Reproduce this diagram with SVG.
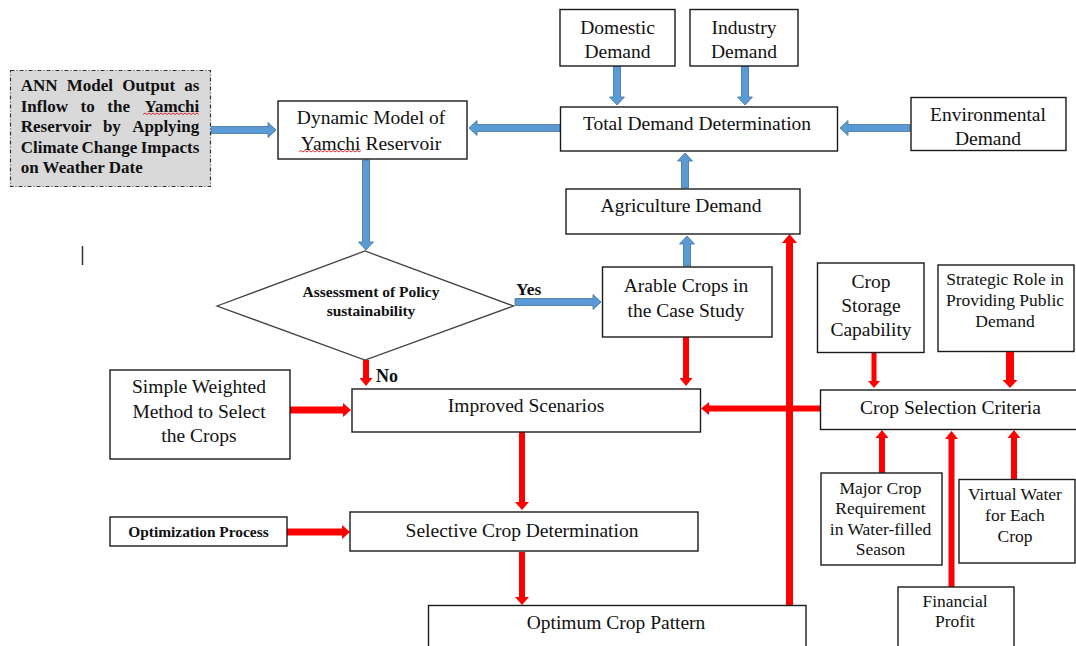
<svg xmlns="http://www.w3.org/2000/svg" width="1076" height="646" viewBox="0 0 1076 646">
<style>
.box{fill:#fff;stroke:#1a1a1a;stroke-width:1.4}
.t{font-family:"Liberation Serif","Times New Roman",serif;font-size:19.5px;fill:#111;text-anchor:middle}
.s{font-size:17.5px}
.b{font-weight:bold}
.blue{fill:#5b9bd5;stroke:#41719c;stroke-width:0.8}
.red{fill:#ff0000}
.wave{fill:none;stroke:#e03030;stroke-width:1}
</style>
<rect width="1076" height="646" fill="#fff"/>

<g id="connectors">
  <path class="blue" d="M211,126.5 L268,126.5 L268,122.5 L276,130 L268,137.5 L268,133.5 L211,133.5 Z"/>
  <path class="blue" d="M560,124.5 L477,124.5 L477,120.5 L469,128 L477,135.5 L477,131.5 L560,131.5 Z"/>
  <path class="blue" d="M613.5,66 L613.5,97 L609.5,97 L617,105 L624.5,97 L620.5,97 L620.5,66 Z"/>
  <path class="blue" d="M741.5,66 L741.5,97 L737.5,97 L745,105 L752.5,97 L748.5,97 L748.5,66 Z"/>
  <path class="blue" d="M910,124.5 L848,124.5 L848,120.5 L840,128 L848,135.5 L848,131.5 L910,131.5 Z"/>
  <path class="blue" d="M681.5,188 L681.5,161 L677.5,161 L685,153 L692.5,161 L688.5,161 L688.5,188 Z"/>
  <path class="blue" d="M683.5,266 L683.5,244 L679.5,244 L687,236 L694.5,244 L690.5,244 L690.5,266 Z"/>
  <path class="blue" d="M362.5,160 L362.5,242 L358.5,242 L366,250 L373.5,242 L369.5,242 L369.5,160 Z"/>
  <path class="blue" d="M515,298.5 L593,298.5 L593,294.5 L601,302 L593,309.5 L593,305.5 L515,305.5 Z"/>

  <path class="red" d="M363,360 L363,378 L359.5,378 L366,386 L372.5,378 L369,378 L369,360 Z"/>
  <path class="red" d="M683,337 L683,378 L679.5,378 L686,386 L692.5,378 L689,378 L689,337 Z"/>
  <path class="red" d="M290,406.5 L343,406.5 L343,403 L351,410 L343,417 L343,413.5 L290,413.5 Z"/>
  <path class="red" d="M820,405.5 L709,405.5 L709,402 L701,408.5 L709,415 L709,411.5 L820,411.5 Z"/>
  <path class="red" d="M519,432 L519,502 L515,502 L522,510 L529,502 L525,502 L525,432 Z"/>
  <path class="red" d="M287,528.5 L342,528.5 L342,525 L350,532 L342,539 L342,535.5 L287,535.5 Z"/>
  <path class="red" d="M519,552 L519,597 L515,597 L522,605 L529,597 L525,597 L525,552 Z"/>
  <path class="red" d="M786,605 L786,243 L782,243 L789.5,234 L797,243 L793,243 L793,605 Z"/>
  <path class="red" d="M871.5,353 L871.5,381 L868,381 L874,388 L880,381 L876.5,381 L876.5,353 Z"/>
  <path class="red" d="M1006,351 L1006,380 L1002.5,380 L1010,388 L1017.5,380 L1014,380 L1014,351 Z"/>
  <path class="red" d="M879,473 L879,438 L875.5,438 L882,430 L888.5,438 L885,438 L885,473 Z"/>
  <path class="red" d="M948.5,587 L948.5,439 L945,439 L951.5,431 L958,439 L954.5,439 L954.5,587 Z"/>
  <path class="red" d="M1011,479 L1011,438 L1007.5,438 L1014,430 L1020.5,438 L1017,438 L1017,479 Z"/>
  <text class="t b" x="516" y="295" style="text-anchor:start;font-size:17.5px">Yes</text>
  <text class="t b" x="376" y="382" style="text-anchor:start;font-size:18px">No</text>
</g>

<g id="ann">
  <rect x="10.5" y="70.5" width="200" height="116" fill="#d9d9d9" stroke="#333" stroke-width="1.2" stroke-dasharray="4,2,1,2"/>
  <g class="t b" style="font-size:17px;text-anchor:start">
    <text y="91"><tspan x="20.7">ANN</tspan><tspan x="66.7">Model</tspan><tspan x="122.2">Output</tspan><tspan x="199.3" text-anchor="end">as</tspan></text>
    <text y="111.5"><tspan x="20.7">Inflow</tspan><tspan x="80.5">to</tspan><tspan x="107.3">the</tspan><tspan x="199.3" text-anchor="end">Yamchi</tspan></text>
    <text y="132"><tspan x="20.7">Reservoir</tspan><tspan x="102.9">by</tspan><tspan x="199.3" text-anchor="end">Applying</tspan></text>
    <text y="152.5"><tspan x="20.7">Climate</tspan><tspan x="81.6">Change</tspan><tspan x="199.3" text-anchor="end">Impacts</tspan></text>
    <text x="20.7" y="173">on Weather Date</text>
  </g>
  <path class="wave" d="M143,114.5 l2,-1.5 l2,1.5 l2,-1.5 l2,1.5 l2,-1.5 l2,1.5 l2,-1.5 l2,1.5 l2,-1.5 l2,1.5 l2,-1.5 l2,1.5 l2,-1.5 l2,1.5 l2,-1.5 l2,1.5 l2,-1.5 l2,1.5 l2,-1.5 l2,1.5 l2,-1.5 l2,1.5 l2,-1.5 l2,1.5 l2,-1.5 l2,1.5 l2,-1.5 l2,1.5"/>
</g>

<g id="dynamic">
  <rect class="box" x="278" y="101" width="189" height="58"/>
  <text class="t" x="371" y="123.5">Dynamic Model of</text>
  <text class="t" x="371" y="149.5">Yamchi Reservoir</text>
  <path class="wave" d="M299,152 l2,-1.5 l2,1.5 l2,-1.5 l2,1.5 l2,-1.5 l2,1.5 l2,-1.5 l2,1.5 l2,-1.5 l2,1.5 l2,-1.5 l2,1.5 l2,-1.5 l2,1.5 l2,-1.5 l2,1.5 l2,-1.5 l2,1.5 l2,-1.5 l2,1.5 l2,-1.5 l2,1.5 l2,-1.5 l2,1.5 l2,-1.5 l2,1.5 l2,-1.5 l2,1.5 l2,-1.5 l2,1.5 l2,-1.5"/>
</g>

<g id="domestic">
  <rect class="box" x="560" y="9.5" width="115" height="56.5"/>
  <text class="t" x="617.5" y="33.5">Domestic</text>
  <text class="t" x="617.5" y="57.5">Demand</text>
</g>

<g id="industry">
  <rect class="box" x="690" y="9.5" width="108" height="56.5"/>
  <text class="t" x="744" y="33.5">Industry</text>
  <text class="t" x="744" y="57.5">Demand</text>
</g>

<g id="total">
  <rect class="box" x="560.5" y="107" width="277" height="44"/>
  <text class="t" x="697" y="130">Total Demand Determination</text>
</g>

<g id="environmental">
  <rect class="box" x="911" y="97.5" width="155" height="53"/>
  <text class="t" x="988" y="120.5">Environmental</text>
  <text class="t" x="988" y="145">Demand</text>
</g>

<g id="agriculture">
  <rect class="box" x="566" y="189" width="234" height="45"/>
  <text class="t" x="681" y="212">Agriculture Demand</text>
</g>

<g id="arable">
  <rect class="box" x="602.5" y="267" width="169.5" height="70"/>
  <text class="t" x="686" y="292">Arable Crops in</text>
  <text class="t" x="686" y="317">the Case Study</text>
</g>

<g id="assessment">
  <polygon points="217,306 365,251 513.5,306 365,360" fill="#fff" stroke="#404040" stroke-width="1.3"/>
  <text class="t b" x="371" y="297" style="font-size:15.5px">Assessment of Policy</text>
  <text class="t b" x="371" y="315.5" style="font-size:15.5px">sustainability</text>
</g>

<g id="simple">
  <rect class="box" x="110" y="370" width="180" height="89"/>
  <text class="t" x="199" y="393">Simple Weighted</text>
  <text class="t" x="199" y="418">Method to Select</text>
  <text class="t" x="199" y="442">the Crops</text>
</g>

<g id="improved">
  <rect class="box" x="352" y="389" width="348.5" height="43"/>
  <text class="t" x="526" y="412">Improved Scenarios</text>
</g>

<g id="optimization">
  <rect class="box" x="110" y="517" width="177" height="29"/>
  <text class="t b" x="198.5" y="536.5" style="font-size:15.4px">Optimization Process</text>
</g>

<g id="selective">
  <rect class="box" x="350" y="512" width="348" height="39"/>
  <text class="t" x="522" y="537">Selective Crop Determination</text>
</g>

<g id="optimum">
  <rect class="box" x="428.5" y="605.5" width="377.5" height="45"/>
  <text class="t" x="616" y="628.5">Optimum Crop Pattern</text>
</g>

<g id="storage">
  <rect class="box" x="817.5" y="263" width="106.5" height="89.5"/>
  <text class="t" x="871" y="287.5">Crop</text>
  <text class="t" x="871" y="311.5">Storage</text>
  <text class="t" x="871" y="335.5">Capability</text>
</g>

<g id="strategic">
  <rect class="box" x="938" y="265" width="136" height="86.5"/>
  <text class="t s" x="1005" y="285">Strategic Role in</text>
  <text class="t s" x="1005" y="306">Providing Public</text>
  <text class="t s" x="1005" y="326.5">Demand</text>
</g>

<g id="criteria">
  <rect class="box" x="820.5" y="390" width="260" height="39.5"/>
  <text class="t" x="950.5" y="413.5">Crop Selection Criteria</text>
</g>

<g id="major">
  <rect class="box" x="821" y="473" width="121" height="92"/>
  <text class="t s" x="880.5" y="493.5">Major Crop</text>
  <text class="t s" x="880.5" y="513.5">Requirement</text>
  <text class="t s" x="880.5" y="534.5">in Water-filled</text>
  <text class="t s" x="880.5" y="555">Season</text>
</g>

<g id="virtual">
  <rect class="box" x="959" y="479.5" width="116" height="83.5"/>
  <text class="t s" x="1015" y="500">Virtual Water</text>
  <text class="t s" x="1015" y="520.5">for Each</text>
  <text class="t s" x="1015" y="541.5">Crop</text>
</g>

<g id="financial">
  <rect class="box" x="898" y="587" width="116" height="65"/>
  <text class="t s" x="955" y="607">Financial</text>
  <text class="t s" x="955" y="627">Profit</text>
</g>

<line x1="82.5" y1="246" x2="82.5" y2="265" stroke="#333" stroke-width="1.5"/>
</svg>
